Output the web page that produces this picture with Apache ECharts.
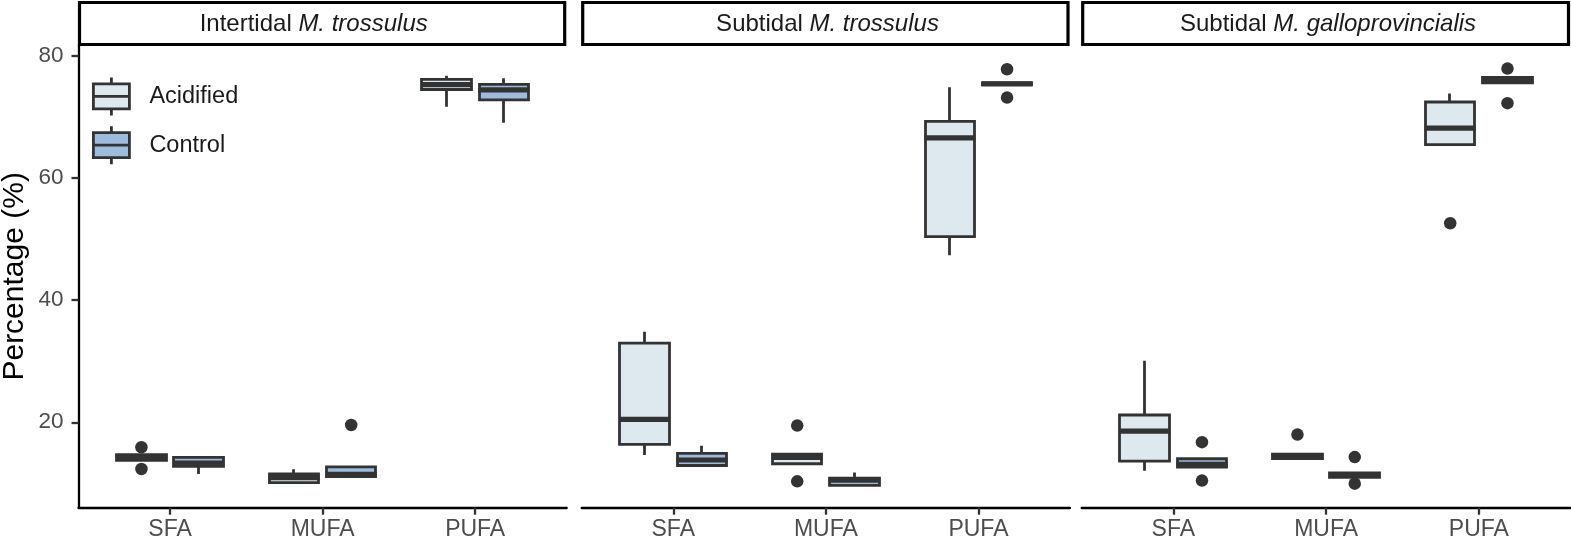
<!DOCTYPE html>
<html>
<head>
<meta charset="utf-8">
<script src="https://cdn.jsdelivr.net/npm/echarts@6/dist/echarts.min.js"></script>
<style>
html,body{margin:0;padding:0;background:#ffffff;}
#chart{width:1571px;height:543px;}
</style>
</head>
<body>
<div id="chart"></div>
<script>
// ---------------- data ----------------
const categories = ['SFA', 'MUFA', 'PUFA'];
const groups = ['Acidified', 'Control'];
const panelTitlePlain = ['Intertidal ', 'Subtidal ', 'Subtidal '];
const panelTitleItalic = ['M. trossulus', 'M. trossulus', 'M. galloprovincialis'];
const yTicks = [20, 40, 60, 80];
const yTitle = 'Percentage (%)';

// box stats per category: [lower whisker, Q1, median, Q3, upper whisker]
const intertidalTrossulusAcidified = [
  [13.76, 13.76, 14.16, 14.71, 14.71],
  [10.11, 10.11, 10.93, 11.55, 12.31],
  [71.65, 74.47, 75.27, 76.12, 76.73]
];
const intertidalTrossulusControl = [
  [11.54, 12.80, 13.34, 14.25, 14.40],
  [11.13, 11.13, 11.46, 12.70, 12.70],
  [69.04, 72.78, 74.39, 75.29, 76.30]
];
const subtidalTrossulusAcidified = [
  [14.65, 16.37, 20.46, 32.97, 34.83],
  [13.21, 13.21, 14.24, 14.80, 14.80],
  [47.35, 50.38, 66.56, 69.25, 74.83]
];
const subtidalTrossulusControl = [
  [12.93, 12.93, 13.83, 14.90, 16.17],
  [9.69, 9.69, 10.51, 10.85, 11.77],
  [75.27, 75.27, 75.40, 75.53, 75.53]
];
const subtidalGalloAcidified = [
  [12.05, 13.65, 18.56, 21.19, 30.07],
  [14.06, 14.06, 14.42, 14.78, 14.78],
  [65.45, 65.45, 68.15, 72.42, 73.81]
];
const subtidalGalloControl = [
  [12.67, 12.67, 13.10, 14.03, 14.03],
  [11.00, 11.00, 11.36, 11.72, 11.72],
  [75.56, 75.56, 75.99, 76.44, 76.44]
];

// outliers: [category index, value]
const intertidalTrossulusAcidifiedOutliers = [[0, 15.91], [0, 12.36]];
const intertidalTrossulusControlOutliers = [[1, 19.56]];
const subtidalTrossulusAcidifiedOutliers = [[1, 19.46], [1, 10.34]];
const subtidalTrossulusControlOutliers = [[2, 77.78], [2, 73.14]];
const subtidalGalloAcidifiedOutliers = [[1, 17.99], [2, 52.57]];
const subtidalGalloControlOutliers = [[0, 16.74], [0, 10.46], [1, 14.30], [1, 9.95], [2, 77.89], [2, 72.23]];

// ---------------- layout / style ----------------
const FONT = "'Liberation Sans', Arial, Helvetica, sans-serif";
const FILLS = ['#DDE9EF', '#9DBBDD'];
const INK = '#333333';
const DODGE = 0.1875;
const BOX_W = 50;
const Y_MIN = 6.02, Y_MAX = 81.75;
const PANEL_LEFT = [78.5, 581.7, 1081.7];
const PANEL_WIDTH = [488.2, 488.3, 488.8];
const PANEL_TOP = 45, PANEL_BOTTOM = 35.3;
const STRIP_TEXT_X = [313.7, 827.5, 1328];

const boxes = [
  [intertidalTrossulusAcidified, intertidalTrossulusControl],
  [subtidalTrossulusAcidified, subtidalTrossulusControl],
  [subtidalGalloAcidified, subtidalGalloControl]
];
const outliers = [
  [intertidalTrossulusAcidifiedOutliers, intertidalTrossulusControlOutliers],
  [subtidalTrossulusAcidifiedOutliers, subtidalTrossulusControlOutliers],
  [subtidalGalloAcidifiedOutliers, subtidalGalloControlOutliers]
];

const grid = [], xAxis = [], yAxis = [], series = [], graphic = [];

for (let p = 0; p < 3; p++) {
  grid.push({
    left: PANEL_LEFT[p], width: PANEL_WIDTH[p], top: PANEL_TOP, bottom: PANEL_BOTTOM,
    containLabel: false, outerBoundsMode: 'none'
  });
  xAxis.push({
    type: 'value', gridIndex: p, min: 0.4, max: 3.6,
    axisLine: { show: true, onZero: false, lineStyle: { color: '#000000', width: 2.3 } },
    axisTick: { show: true, customValues: [1, 2, 3], length: 7, lineStyle: { color: INK, width: 2.3 } },
    axisLabel: {
      show: true, customValues: [1, 2, 3], margin: 10,
      formatter: v => categories[Math.round(v) - 1] || '',
      fontSize: 23, color: '#4D4D4D', fontFamily: FONT
    },
    splitLine: { show: false }
  });
  const first = p === 0;
  yAxis.push({
    type: 'value', gridIndex: p, min: Y_MIN, max: Y_MAX,
    axisLine: { show: first, lineStyle: { color: '#000000', width: 2.3 } },
    axisTick: { show: first, customValues: yTicks, length: 7, lineStyle: { color: INK, width: 2.3 } },
    axisLabel: { show: first, customValues: yTicks, margin: 15, fontSize: 22.5, color: '#4D4D4D', fontFamily: FONT },
    splitLine: { show: false },
    name: first ? yTitle : '',
    nameLocation: 'middle', nameGap: 49,
    nameTextStyle: { fontSize: 30, color: '#000000', fontFamily: FONT }
  });

  for (let g = 0; g < 2; g++) {
    const off = g === 0 ? -DODGE : DODGE;
    const stats = boxes[p][g];
    series.push({
      type: 'candlestick', name: groups[g], xAxisIndex: p, yAxisIndex: p,
      barWidth: BOX_W, animation: false, z: 2,
      itemStyle: {
        color: FILLS[g], color0: FILLS[g],
        borderColor: INK, borderColor0: INK, borderColorDoji: INK,
        borderWidth: 2.8
      },
      emphasis: { disabled: true },
      data: stats.map((s, i) => [i + 1 + off, s[1], s[3], s[0], s[4]])
    });
    series.push({
      type: 'scatter', name: groups[g] + ' median', xAxisIndex: p, yAxisIndex: p,
      symbol: 'rect', symbolSize: [BOX_W + 1, 5.2], animation: false, z: 3,
      itemStyle: { color: INK, opacity: 1 },
      emphasis: { disabled: true },
      data: stats.map((s, i) => [i + 1 + off, s[2]])
    });
    series.push({
      type: 'scatter', name: groups[g] + ' outliers', xAxisIndex: p, yAxisIndex: p,
      symbol: 'circle', symbolSize: 12.5, animation: false, z: 4,
      itemStyle: { color: INK, opacity: 1 },
      emphasis: { disabled: true },
      data: outliers[p][g].map(o => [o[0] + 1 + off, o[1]])
    });
  }

  // facet strip
  graphic.push({
    type: 'rect', z: 10,
    shape: { x: PANEL_LEFT[p] + 1, y: 2.5, width: PANEL_WIDTH[p] - 3, height: 42 },
    style: { fill: '#ffffff', stroke: '#000000', lineWidth: 3.2 }
  });
  graphic.push({
    type: 'text', z: 11,
    x: STRIP_TEXT_X[p], y: 24,
    style: {
      text: '{n|' + panelTitlePlain[p] + '}{i|' + panelTitleItalic[p] + '}',
      align: 'center', verticalAlign: 'middle',
      fontSize: 24, fontFamily: FONT, fill: '#1A1A1A',
      rich: {
        n: { fontSize: 24, fontFamily: FONT, fill: '#1A1A1A', color: '#1A1A1A' },
        i: { fontSize: 24, fontFamily: FONT, fontStyle: 'italic', fill: '#1A1A1A', color: '#1A1A1A' }
      }
    }
  });
}

const ICON = 'path://M0,6.5L36,6.5L36,31.5L0,31.5Z M0,19L36,19 M18,0L18,6.5 M18,31.5L18,38';

const option = {
  backgroundColor: '#ffffff',
  animation: false,
  textStyle: { fontFamily: FONT },
  grid, xAxis, yAxis, series, graphic,
  legend: {
    orient: 'vertical', left: 92, top: 76, padding: 0,
    itemWidth: 36, itemHeight: 38, itemGap: 8,
    selectedMode: false,
    data: groups.map((name, g) => ({
      name, icon: ICON,
      itemStyle: { color: FILLS[g], borderColor: INK, borderWidth: 2.8 }
    })),
    formatter: name => '{t|' + name + '}',
    textStyle: {
      fontSize: 23.5, color: '#1A1A1A', fontFamily: FONT,
      rich: { t: { fontSize: 23.5, color: '#1A1A1A', fontFamily: FONT, padding: [0, 0, 0, 15] } }
    }
  }
};

const chart = echarts.init(document.getElementById('chart'), null, { renderer: 'canvas' });
chart.setOption(option);
</script>
</body>
</html>
